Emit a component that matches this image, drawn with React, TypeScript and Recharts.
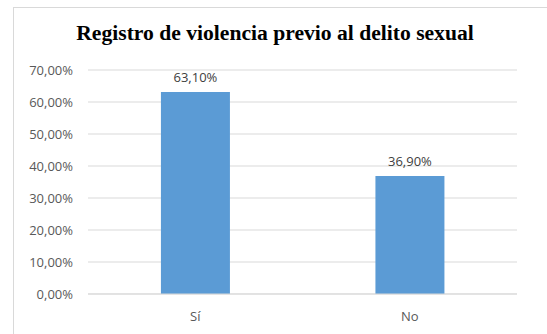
import { BarChart, Bar, XAxis, YAxis, CartesianGrid, LabelList } from 'recharts'

const categories = ['Sí', 'No']
const values = [63.1, 36.9]
const yTicks = [0, 10, 20, 30, 40, 50, 60, 70]

const fmt = (v: number) => `${v.toFixed(2).replace('.', ',')}%`

export default function App() {
  const data = categories.map((name, i) => ({ name, value: values[i] }))

  return (
    <div style={{ position: 'absolute', left: 0, top: 0, width: 547, height: 334, background: '#fff', overflow: 'hidden' }}>
      {/* chart frame */}
      <div style={{ position: 'absolute', left: 13, top: 7, width: 560, height: 360, border: '1px solid #d9d9d9' }} />
      <div
        style={{
          position: 'absolute',
          left: 0,
          top: 21,
          width: 550,
          textAlign: 'center',
          fontFamily: '"Liberation Serif", "Times New Roman", serif',
          fontWeight: 'bold',
          fontSize: 21.6,
          color: '#000',
        }}
      >
        Registro de violencia previo al delito sexual
      </div>
      <div style={{ position: 'absolute', left: 0, top: 0 }}>
        <BarChart
          width={547}
          height={334}
          data={data}
          margin={{ top: 70, right: 30, bottom: 10, left: 13 }}
          barCategoryGap="34%"
        >
          <CartesianGrid vertical={false} stroke="#d9d9d9" />
          <XAxis
            dataKey="name"
            height={30}
            axisLine={{ stroke: '#d9d9d9' }}
            tickLine={false}
            tickSize={0}
            tickMargin={18}
            tick={{ fill: '#595959', fontSize: 13, fontFamily: '"Open Sans", sans-serif' }}
          />
          <YAxis
            width={75}
            domain={[0, 70]}
            ticks={yTicks}
            tickFormatter={fmt}
            axisLine={false}
            tickLine={false}
            tickSize={0}
            tickMargin={15}
            tick={{ fill: '#595959', fontSize: 13, fontFamily: '"Open Sans", sans-serif' }}
          />
          <Bar dataKey="value" fill="#5b9bd5" isAnimationActive={false}>
            <LabelList
              dataKey="value"
              position="top"
              offset={10}
              formatter={(v: any) => fmt(Number(v))}
              style={{ fill: '#404040', fontSize: 13, fontFamily: '"Open Sans", sans-serif' }}
            />
          </Bar>
        </BarChart>
      </div>
    </div>
  )
}
